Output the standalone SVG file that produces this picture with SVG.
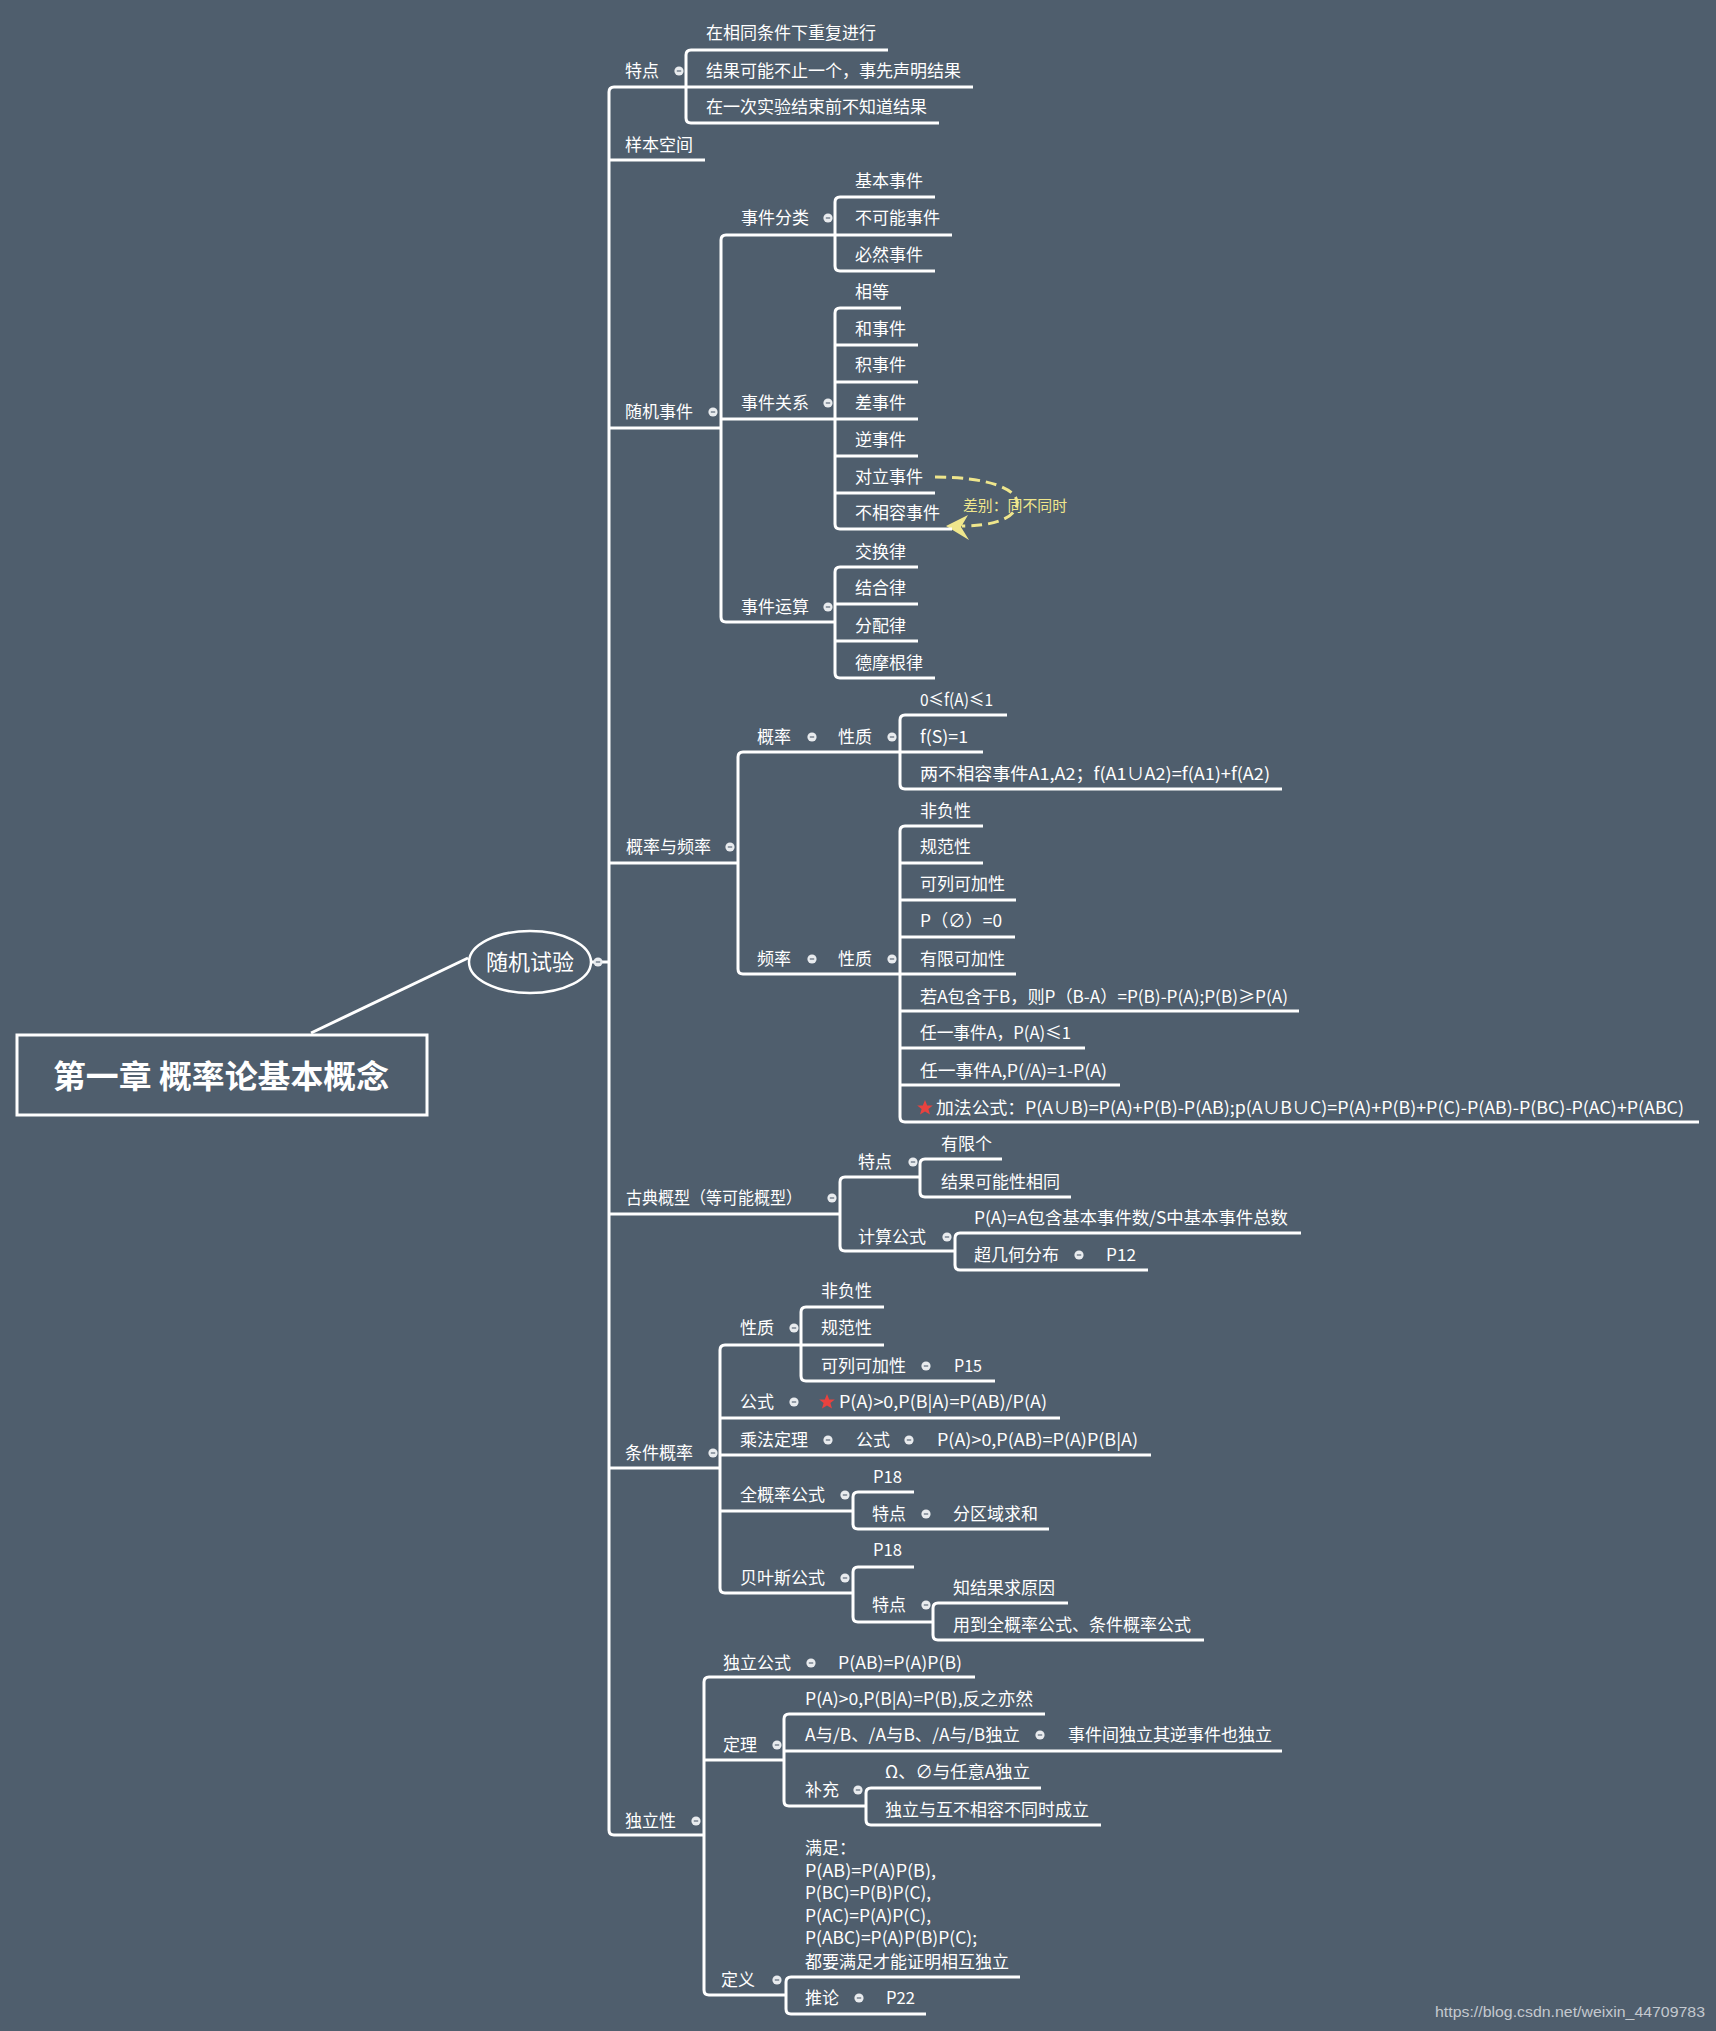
<svg xmlns="http://www.w3.org/2000/svg" xmlns:xlink="http://www.w3.org/1999/xlink" width="1716" height="2031" viewBox="0 0 1716 2031">
<style>
text{font-family:"Noto Sans CJK SC","Microsoft YaHei","Noto Sans",sans-serif;fill:#ffffff;font-size:17px}
.ln{stroke:#ffffff;stroke-width:3;fill:none;stroke-linecap:butt}
.ul{stroke:#ffffff;stroke-width:3;fill:none}
.star{fill:#e8423f}
.note{fill:#efe68c;font-size:15px}
.wm{font-family:"Liberation Sans",Arial,sans-serif;fill:#c4c9cf;font-size:15px}
</style>
<defs>
<g id="dot"><circle r="4.6" fill="#e8ebee"/><line x1="-2.2" x2="2.2" y1="0" y2="0" stroke="#7f8a96" stroke-width="1.6"/></g>
<path id="starshape" d="M0,-8 L2.2,-2.6 L7.8,-2.5 L3.4,1 L5,6.6 L0,3.4 L-5,6.6 L-3.4,1 L-7.8,-2.5 L-2.2,-2.6 Z"/>
</defs>
<rect width="1716" height="2031" fill="#4f5e6d"/>

<g id="connectors">
<path class="ln" d="M614,87 Q609,87 609,92 V1830 Q609,1835 614,1835"/>
<line class="ln" x1="591" y1="962" x2="609" y2="962"/>
<line class="ln" x1="311" y1="1033" x2="468" y2="958"/>
<path class="ln" d="M691,50 Q686,50 686,55 V118 Q686,123 691,123"/>
<path class="ln" d="M726,235 Q721,235 721,240 V617 Q721,622 726,622"/>
<path class="ln" d="M840,197 Q835,197 835,202 V266 Q835,271 840,271"/>
<path class="ln" d="M840,308 Q835,308 835,313 V524 Q835,529 840,529"/>
<path class="ln" d="M840,567 Q835,567 835,572 V673 Q835,678 840,678"/>
<path class="ln" d="M743,752 Q738,752 738,757 V969 Q738,974 743,974"/>
<path class="ln" d="M905,715 Q900,715 900,720 V784 Q900,789 905,789"/>
<path class="ln" d="M905,826 Q900,826 900,831 V1117 Q900,1122 905,1122"/>
<path class="ln" d="M845,1177 Q840,1177 840,1182 V1246 Q840,1251 845,1251"/>
<path class="ln" d="M925,1159 Q920,1159 920,1164 V1192 Q920,1197 925,1197"/>
<path class="ln" d="M960,1233 Q955,1233 955,1238 V1265 Q955,1270 960,1270"/>
<path class="ln" d="M725,1345 Q720,1345 720,1350 V1588 Q720,1593 725,1593"/>
<path class="ln" d="M806,1307 Q801,1307 801,1312 V1376 Q801,1381 806,1381"/>
<path class="ln" d="M858,1492 Q853,1492 853,1497 V1524 Q853,1529 858,1529"/>
<path class="ln" d="M858,1567 Q853,1567 853,1572 V1617 Q853,1622 858,1622"/>
<path class="ln" d="M938,1603 Q933,1603 933,1608 V1635 Q933,1640 938,1640"/>
<path class="ln" d="M709,1677 Q704,1677 704,1682 V1990 Q704,1995 709,1995"/>
<path class="ln" d="M789,1714 Q784,1714 784,1719 V1801 Q784,1806 789,1806"/>
<path class="ln" d="M871,1788 Q866,1788 866,1793 V1820 Q866,1825 871,1825"/>
<path class="ln" d="M791,1977 Q786,1977 786,1982 V2009 Q786,2014 791,2014"/>
<path d="M935,477 C985,477 1020,488 1017,505 C1014,520 990,526 962,526" fill="none" stroke="#efe68c" stroke-width="3" stroke-dasharray="11,6"/>
<path d="M946,526 L968,515 L961,527 L969,540 Z" fill="#efe68c"/>
</g>

<g id="title">
<rect x="17" y="1035" width="410" height="80" fill="#4f5e6d" stroke="#ffffff" stroke-width="3"/>
<text x="53" y="1088" textLength="336" lengthAdjust="spacingAndGlyphs" style="font-size:32px;font-weight:bold" fill="#f2f2f2">第一章 概率论基本概念</text>
</g>

<g id="root">
<ellipse cx="530" cy="962" rx="61" ry="31" fill="#4f5e6d" stroke="#ffffff" stroke-width="2.5"/>
<text x="530" y="970" text-anchor="middle" style="font-size:22px">随机试验</text>
<use href="#dot" x="598" y="962"/>
</g>

<g id="n-tedian"><text x="625" y="77">特点</text><use href="#dot" x="679" y="71"/><line class="ul" x1="614" y1="87" x2="686" y2="87"/></g>
<g id="n-t1"><text x="706" y="39">在相同条件下重复进行</text><line class="ul" x1="691" y1="50" x2="888" y2="50"/></g>
<g id="n-t2"><text x="706" y="77">结果可能不止一个，事先声明结果</text><line class="ul" x1="686" y1="87" x2="973" y2="87"/></g>
<g id="n-t3"><text x="706" y="113">在一次实验结束前不知道结果</text><line class="ul" x1="691" y1="123" x2="939" y2="123"/></g>
<g id="n-sample"><text x="625" y="151">样本空间</text><line class="ul" x1="609" y1="160" x2="705" y2="160"/></g>

<g id="n-suiji"><text x="625" y="418">随机事件</text><use href="#dot" x="713" y="412"/><line class="ul" x1="609" y1="428" x2="721" y2="428"/></g>
<g id="n-fenlei"><text x="741" y="224">事件分类</text><use href="#dot" x="828" y="218"/><line class="ul" x1="726" y1="235" x2="835" y2="235"/></g>
<g id="n-f1"><text x="855" y="187">基本事件</text><line class="ul" x1="840" y1="197" x2="935" y2="197"/></g>
<g id="n-f2"><text x="855" y="224">不可能事件</text><line class="ul" x1="835" y1="235" x2="952" y2="235"/></g>
<g id="n-f3"><text x="855" y="261">必然事件</text><line class="ul" x1="840" y1="271" x2="935" y2="271"/></g>
<g id="n-guanxi"><text x="741" y="409">事件关系</text><use href="#dot" x="828" y="403"/><line class="ul" x1="721" y1="419" x2="835" y2="419"/></g>
<g id="n-g1"><text x="855" y="298">相等</text><line class="ul" x1="840" y1="308" x2="901" y2="308"/></g>
<g id="n-g2"><text x="855" y="335">和事件</text><line class="ul" x1="835" y1="345" x2="918" y2="345"/></g>
<g id="n-g3"><text x="855" y="371">积事件</text><line class="ul" x1="835" y1="382" x2="918" y2="382"/></g>
<g id="n-g4"><text x="855" y="409">差事件</text><line class="ul" x1="835" y1="419" x2="918" y2="419"/></g>
<g id="n-g5"><text x="855" y="446">逆事件</text><line class="ul" x1="835" y1="456" x2="918" y2="456"/></g>
<g id="n-g6"><text x="855" y="483">对立事件</text><line class="ul" x1="835" y1="493" x2="935" y2="493"/></g>
<g id="n-g7"><text x="855" y="519">不相容事件</text><line class="ul" x1="840" y1="529" x2="952" y2="529"/></g>
<g id="n-note"><text class="note" x="963" y="511" textLength="104" lengthAdjust="spacingAndGlyphs">差别：同不同时</text></g>
<g id="n-yunsuan"><text x="741" y="613">事件运算</text><use href="#dot" x="828" y="607"/><line class="ul" x1="726" y1="622" x2="835" y2="622"/></g>
<g id="n-y1"><text x="855" y="558">交换律</text><line class="ul" x1="840" y1="567" x2="918" y2="567"/></g>
<g id="n-y2"><text x="855" y="594">结合律</text><line class="ul" x1="835" y1="604" x2="918" y2="604"/></g>
<g id="n-y3"><text x="855" y="632">分配律</text><line class="ul" x1="835" y1="641" x2="918" y2="641"/></g>
<g id="n-y4"><text x="855" y="669">德摩根律</text><line class="ul" x1="840" y1="678" x2="935" y2="678"/></g>

<g id="n-gailv"><text x="626" y="853">概率与频率</text><use href="#dot" x="730" y="847"/><line class="ul" x1="609" y1="863" x2="738" y2="863"/></g>
<g id="n-p"><text x="757" y="743">概率</text><use href="#dot" x="812" y="737"/><text x="838" y="743">性质</text><use href="#dot" x="892" y="737"/><line class="ul" x1="743" y1="752" x2="900" y2="752"/></g>
<g id="n-p1"><text x="920" y="706" textLength="73" lengthAdjust="spacingAndGlyphs">0≤f(A)≤1</text><line class="ul" x1="905" y1="715" x2="1007" y2="715"/></g>
<g id="n-p2"><text x="920" y="743" textLength="48" lengthAdjust="spacingAndGlyphs">f(S)=1</text><line class="ul" x1="900" y1="752" x2="983" y2="752"/></g>
<g id="n-p3"><text x="920" y="780" textLength="350" lengthAdjust="spacingAndGlyphs">两不相容事件A1,A2；f(A1∪A2)=f(A1)+f(A2)</text><line class="ul" x1="905" y1="789" x2="1282" y2="789"/></g>
<g id="n-q"><text x="757" y="965">频率</text><use href="#dot" x="812" y="959"/><text x="838" y="965">性质</text><use href="#dot" x="892" y="959"/><line class="ul" x1="743" y1="974" x2="900" y2="974"/></g>
<g id="n-q1"><text x="920" y="817">非负性</text><line class="ul" x1="905" y1="826" x2="983" y2="826"/></g>
<g id="n-q2"><text x="920" y="853">规范性</text><line class="ul" x1="900" y1="863" x2="983" y2="863"/></g>
<g id="n-q3"><text x="920" y="890">可列可加性</text><line class="ul" x1="900" y1="900" x2="1016" y2="900"/></g>
<g id="n-q4"><text x="920" y="927" textLength="82" lengthAdjust="spacingAndGlyphs">P（∅）=0</text><line class="ul" x1="900" y1="937" x2="1015" y2="937"/></g>
<g id="n-q5"><text x="920" y="965">有限可加性</text><line class="ul" x1="900" y1="974" x2="1016" y2="974"/></g>
<g id="n-q6"><text x="920" y="1003" textLength="368" lengthAdjust="spacingAndGlyphs">若A包含于B，则P（B-A）=P(B)-P(A);P(B)≥P(A)</text><line class="ul" x1="900" y1="1011" x2="1299" y2="1011"/></g>
<g id="n-q7"><text x="920" y="1039" textLength="151" lengthAdjust="spacingAndGlyphs">任一事件A，P(A)≤1</text><line class="ul" x1="900" y1="1048" x2="1085" y2="1048"/></g>
<g id="n-q8"><text x="920" y="1077" textLength="187" lengthAdjust="spacingAndGlyphs">任一事件A,P(/A)=1-P(A)</text><line class="ul" x1="900" y1="1085" x2="1120" y2="1085"/></g>
<g id="n-q9"><use href="#starshape" class="star" x="925" y="1108"/><text x="936" y="1114" textLength="748" lengthAdjust="spacingAndGlyphs">加法公式：P(A∪B)=P(A)+P(B)-P(AB);p(A∪B∪C)=P(A)+P(B)+P(C)-P(AB)-P(BC)-P(AC)+P(ABC)</text><line class="ul" x1="905" y1="1122" x2="1699" y2="1122"/></g>

<g id="n-gudian"><text x="626" y="1204" textLength="176" lengthAdjust="spacingAndGlyphs">古典概型（等可能概型）</text><use href="#dot" x="832" y="1198"/><line class="ul" x1="609" y1="1214" x2="840" y2="1214"/></g>
<g id="n-gd-td"><text x="858" y="1168">特点</text><use href="#dot" x="913" y="1162"/><line class="ul" x1="845" y1="1177" x2="920" y2="1177"/></g>
<g id="n-gd1"><text x="941" y="1150">有限个</text><line class="ul" x1="925" y1="1159" x2="1002" y2="1159"/></g>
<g id="n-gd2"><text x="941" y="1188">结果可能性相同</text><line class="ul" x1="925" y1="1197" x2="1071" y2="1197"/></g>
<g id="n-gd-js"><text x="858" y="1243">计算公式</text><use href="#dot" x="947" y="1237"/><line class="ul" x1="845" y1="1251" x2="955" y2="1251"/></g>
<g id="n-gd3"><text x="974" y="1224" textLength="314" lengthAdjust="spacingAndGlyphs">P(A)=A包含基本事件数/S中基本事件总数</text><line class="ul" x1="960" y1="1233" x2="1301" y2="1233"/></g>
<g id="n-gd4"><text x="974" y="1261">超几何分布</text><use href="#dot" x="1079" y="1255"/><text x="1106" y="1261" textLength="30" lengthAdjust="spacingAndGlyphs">P12</text><line class="ul" x1="960" y1="1270" x2="1148" y2="1270"/></g>

<g id="n-tj"><text x="625" y="1459">条件概率</text><use href="#dot" x="713" y="1453"/><line class="ul" x1="609" y1="1468" x2="720" y2="1468"/></g>
<g id="n-tj-xz"><text x="740" y="1334">性质</text><use href="#dot" x="794" y="1328"/><line class="ul" x1="725" y1="1345" x2="801" y2="1345"/></g>
<g id="n-tj1"><text x="821" y="1297">非负性</text><line class="ul" x1="806" y1="1307" x2="884" y2="1307"/></g>
<g id="n-tj2"><text x="821" y="1334">规范性</text><line class="ul" x1="801" y1="1345" x2="884" y2="1345"/></g>
<g id="n-tj3"><text x="821" y="1372">可列可加性</text><use href="#dot" x="926" y="1366"/><text x="954" y="1372" textLength="28" lengthAdjust="spacingAndGlyphs">P15</text><line class="ul" x1="806" y1="1381" x2="995" y2="1381"/></g>
<g id="n-tj-gs"><text x="740" y="1408">公式</text><use href="#dot" x="794" y="1402"/><use href="#starshape" class="star" x="827" y="1402"/><text x="839" y="1408" textLength="208" lengthAdjust="spacingAndGlyphs">P(A)&gt;0,P(B|A)=P(AB)/P(A)</text><line class="ul" x1="720" y1="1418" x2="1060" y2="1418"/></g>
<g id="n-tj-cf"><text x="740" y="1446">乘法定理</text><use href="#dot" x="828" y="1440"/><text x="856" y="1446">公式</text><use href="#dot" x="909" y="1440"/><text x="937" y="1446" textLength="201" lengthAdjust="spacingAndGlyphs">P(A)&gt;0,P(AB)=P(A)P(B|A)</text><line class="ul" x1="720" y1="1455" x2="1151" y2="1455"/></g>
<g id="n-tj-qgl"><text x="740" y="1501">全概率公式</text><use href="#dot" x="845" y="1495"/><line class="ul" x1="720" y1="1511" x2="853" y2="1511"/></g>
<g id="n-tj-q1"><text x="873" y="1483" textLength="29" lengthAdjust="spacingAndGlyphs">P18</text><line class="ul" x1="858" y1="1492" x2="914" y2="1492"/></g>
<g id="n-tj-q2"><text x="872" y="1520">特点</text><use href="#dot" x="926" y="1514"/><text x="953" y="1520">分区域求和</text><line class="ul" x1="858" y1="1529" x2="1049" y2="1529"/></g>
<g id="n-tj-by"><text x="740" y="1584">贝叶斯公式</text><use href="#dot" x="845" y="1578"/><line class="ul" x1="725" y1="1593" x2="853" y2="1593"/></g>
<g id="n-tj-b1"><text x="873" y="1556" textLength="29" lengthAdjust="spacingAndGlyphs">P18</text><line class="ul" x1="858" y1="1567" x2="914" y2="1567"/></g>
<g id="n-tj-b2"><text x="872" y="1611">特点</text><use href="#dot" x="926" y="1605"/><line class="ul" x1="858" y1="1622" x2="933" y2="1622"/></g>
<g id="n-tj-b3"><text x="953" y="1594">知结果求原因</text><line class="ul" x1="938" y1="1603" x2="1068" y2="1603"/></g>
<g id="n-tj-b4"><text x="953" y="1631">用到全概率公式、条件概率公式</text><line class="ul" x1="938" y1="1640" x2="1204" y2="1640"/></g>

<g id="n-dl"><text x="625" y="1827">独立性</text><use href="#dot" x="696" y="1821"/><line class="ul" x1="614" y1="1835" x2="704" y2="1835"/></g>
<g id="n-dl-gs"><text x="723" y="1669">独立公式</text><use href="#dot" x="811" y="1663"/><text x="838" y="1669" textLength="124" lengthAdjust="spacingAndGlyphs">P(AB)=P(A)P(B)</text><line class="ul" x1="709" y1="1677" x2="975" y2="1677"/></g>
<g id="n-dl-dl"><text x="723" y="1751">定理</text><use href="#dot" x="777" y="1745"/><line class="ul" x1="704" y1="1760" x2="784" y2="1760"/></g>
<g id="n-dl1"><text x="805" y="1705" textLength="228" lengthAdjust="spacingAndGlyphs">P(A)&gt;0,P(B|A)=P(B),反之亦然</text><line class="ul" x1="789" y1="1714" x2="1045" y2="1714"/></g>
<g id="n-dl2"><text x="805" y="1741" textLength="215" lengthAdjust="spacingAndGlyphs">A与/B、/A与B、/A与/B独立</text><use href="#dot" x="1040" y="1735"/><text x="1068" y="1741">事件间独立其逆事件也独立</text><line class="ul" x1="784" y1="1751" x2="1282" y2="1751"/></g>
<g id="n-dl-bc"><text x="805" y="1796">补充</text><use href="#dot" x="858" y="1790"/><line class="ul" x1="789" y1="1806" x2="866" y2="1806"/></g>
<g id="n-dl3"><text x="885" y="1778" textLength="145" lengthAdjust="spacingAndGlyphs">Ω、∅与任意A独立</text><line class="ul" x1="871" y1="1788" x2="1041" y2="1788"/></g>
<g id="n-dl4"><text x="885" y="1816">独立与互不相容不同时成立</text><line class="ul" x1="871" y1="1825" x2="1101" y2="1825"/></g>
<g id="n-dl-dy"><text x="721" y="1986">定义</text><use href="#dot" x="777" y="1980"/><line class="ul" x1="709" y1="1995" x2="786" y2="1995"/></g>
<g id="n-dl5">
<text x="805" y="1854">满足：</text>
<text x="805" y="1877" textLength="131" lengthAdjust="spacingAndGlyphs">P(AB)=P(A)P(B),</text>
<text x="805" y="1899" textLength="126" lengthAdjust="spacingAndGlyphs">P(BC)=P(B)P(C),</text>
<text x="805" y="1922" textLength="126" lengthAdjust="spacingAndGlyphs">P(AC)=P(A)P(C),</text>
<text x="805" y="1944" textLength="172" lengthAdjust="spacingAndGlyphs">P(ABC)=P(A)P(B)P(C);</text>
<text x="805" y="1968">都要满足才能证明相互独立</text>
<line class="ul" x1="791" y1="1977" x2="1020" y2="1977"/></g>
<g id="n-dl6"><text x="805" y="2004">推论</text><use href="#dot" x="859" y="1998"/><text x="886" y="2004" textLength="29" lengthAdjust="spacingAndGlyphs">P22</text><line class="ul" x1="791" y1="2014" x2="926" y2="2014"/></g>

<text class="wm" x="1435" y="2017" textLength="270" lengthAdjust="spacingAndGlyphs">https://blog.csdn.net/weixin_44709783</text>
</svg>
